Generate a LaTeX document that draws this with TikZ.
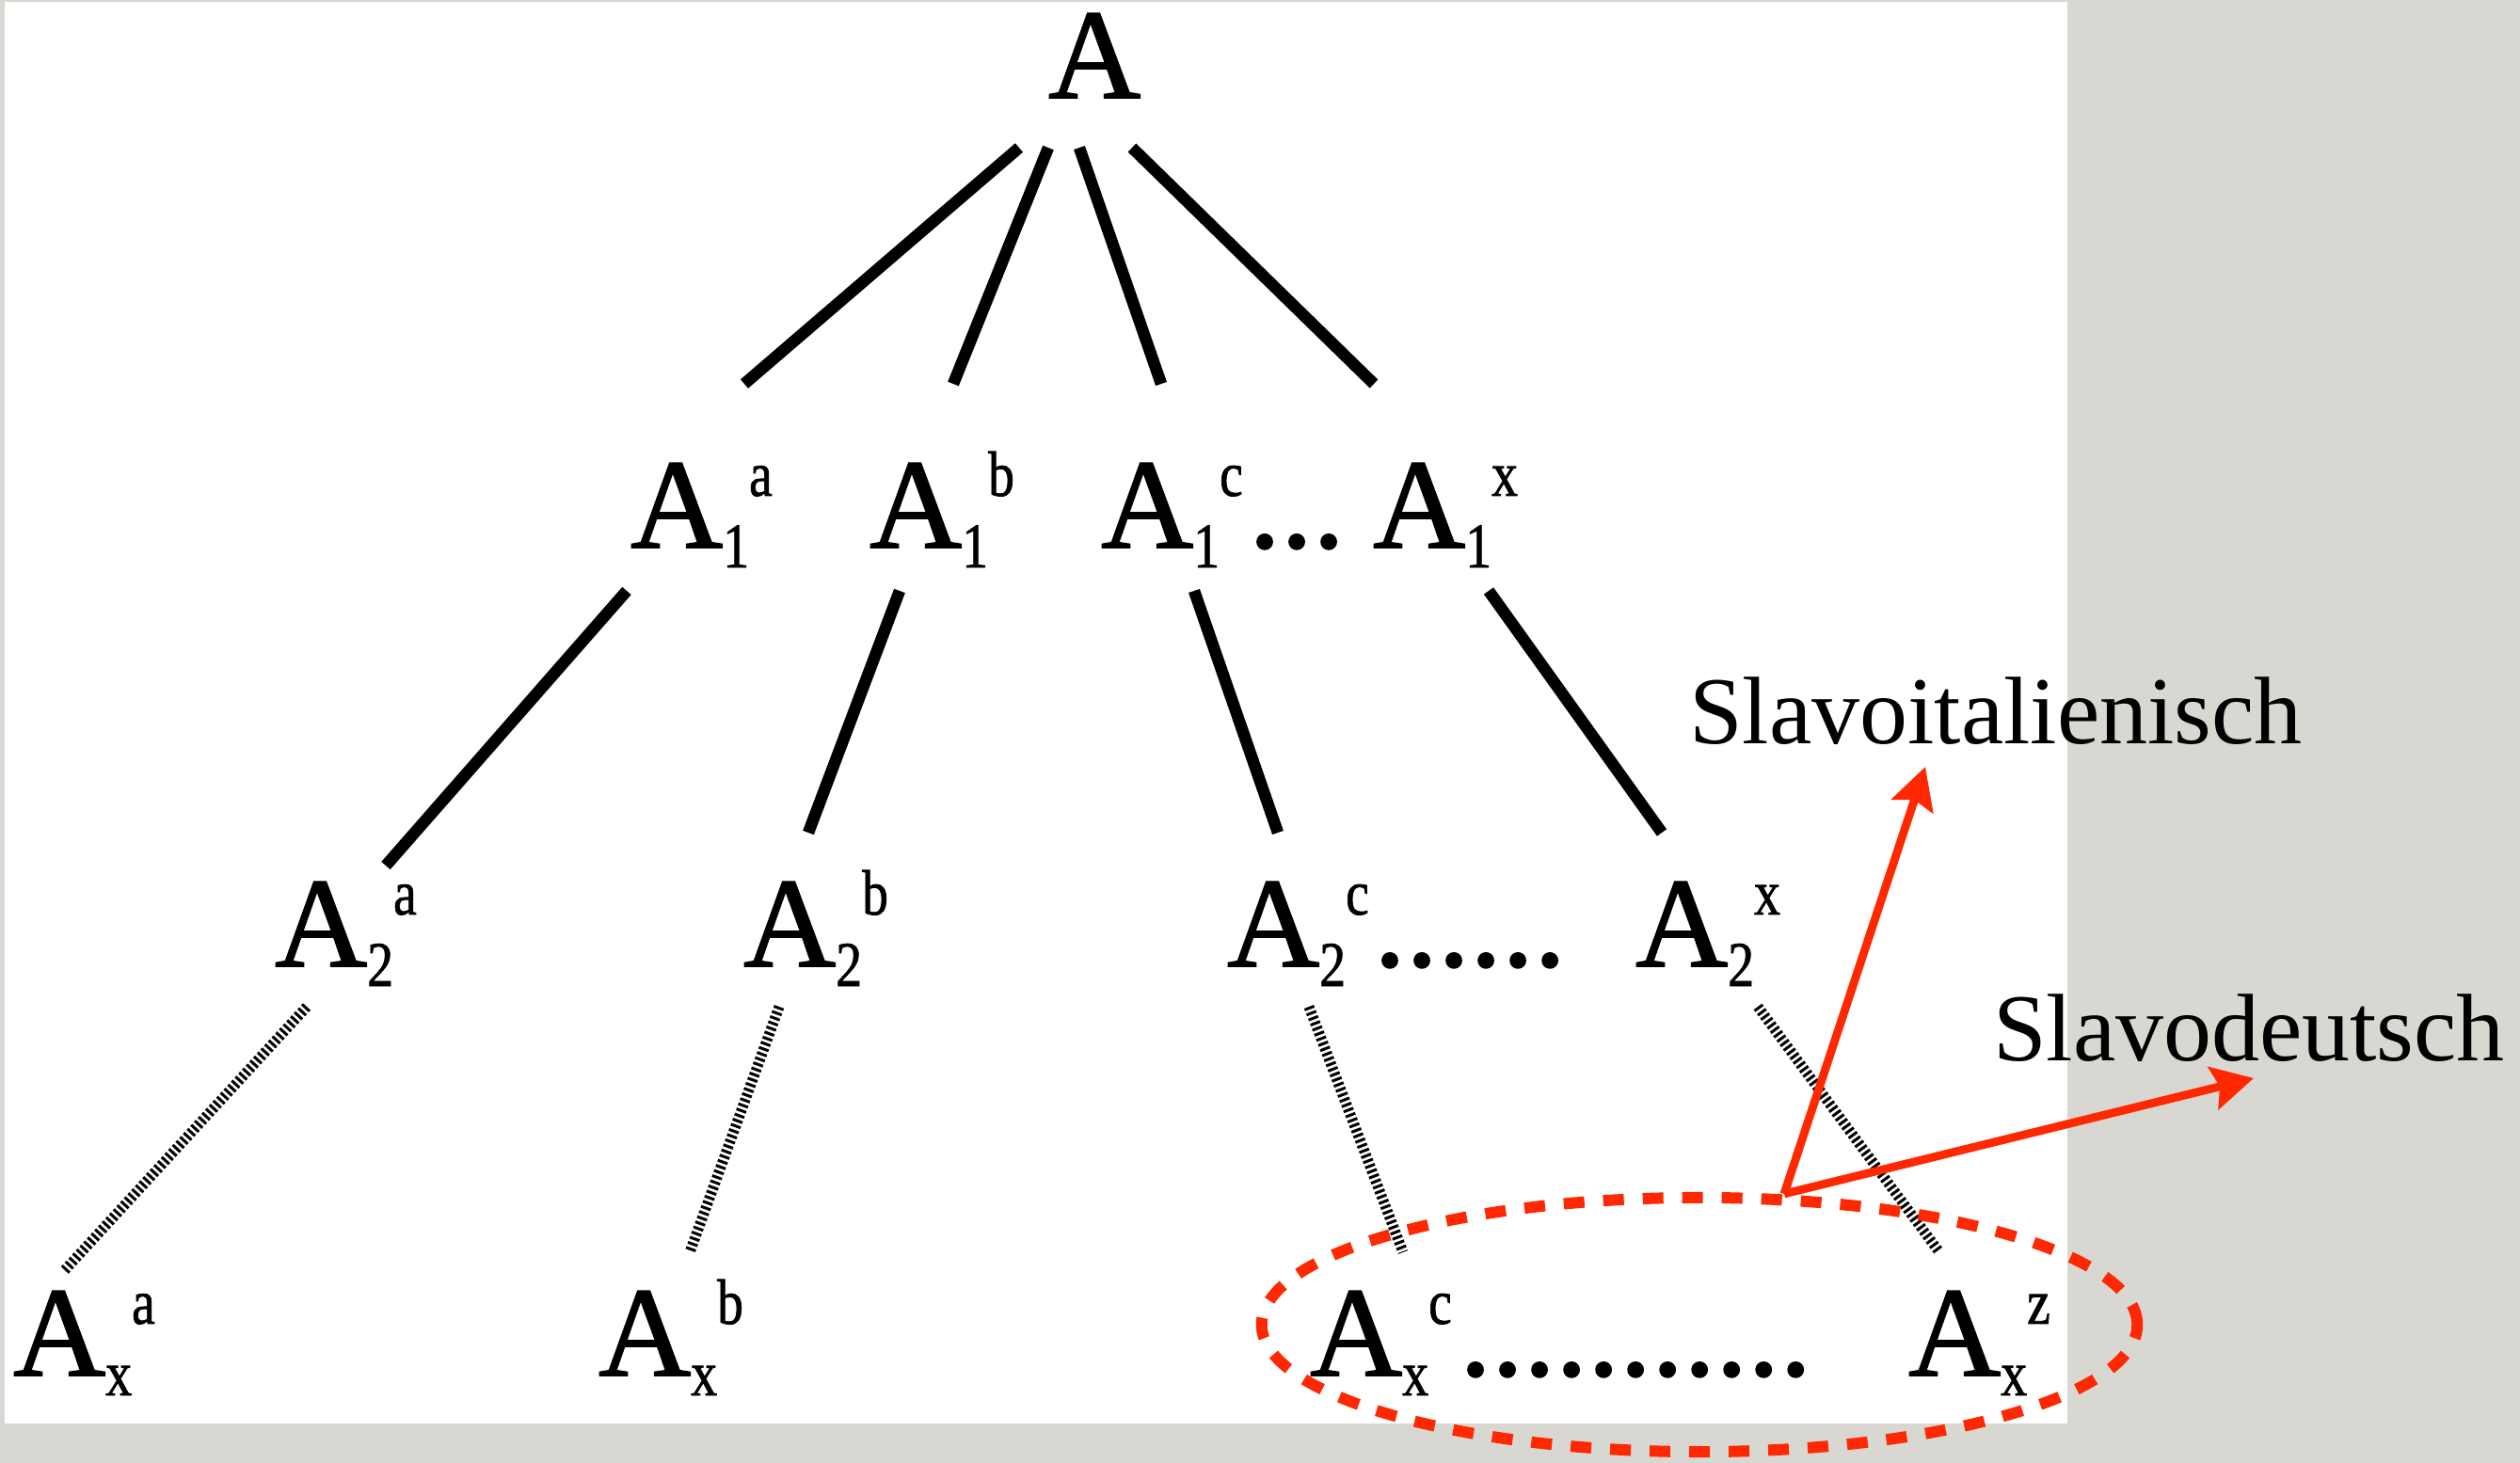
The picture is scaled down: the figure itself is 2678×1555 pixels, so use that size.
\documentclass[tikz,border=0pt]{standalone}
\usepackage{fontspec}
\setmainfont{Liberation Serif}
\newfontfamily\Afont[FakeBold=1.2]{Liberation Serif}
\usetikzlibrary{calc,shapes.geometric,arrows.meta}
\definecolor{paper}{RGB}{217,215,209}
\definecolor{hl}{RGB}{255,40,0}
\newcommand\bigf{\Afont\fontsize{38.7pt}{40pt}\selectfont}
\newcommand\smf{\Afont\fontsize{19.3pt}{20pt}\selectfont}
\newcommand\labf{\fontsize{29pt}{30pt}\selectfont}
\newcommand\sml[1]{\scalebox{0.82}[1]{\smf #1}}
\newcommand\AL[2]{A\raisebox{-0.21cm}{\sml{#1}}\raisebox{0.55cm}{\sml{#2}}}
\begin{document}
\begin{tikzpicture}[x=0.01cm,y=-0.01cm,
  lab/.style={anchor=base west,inner sep=0pt,outer sep=0pt,font=\bigf},
  tlab/.style={anchor=base west,inner sep=0pt,outer sep=0pt,font=\labf},
  branch/.style={line width=0.125cm},
  hatch/.style={line width=0.11cm,dash pattern=on 0.03cm off 0.028cm},
  redarrow/.style={draw=hl,line width=0.088cm,-{Stealth[length=0.44cm,width=0.46cm,inset=0.07cm]}},
  group/.style={draw=hl,ellipse,line width=0.12cm,dash pattern=on 0.22cm off 0.2cm,
    minimum width=9.3cm,minimum height=2.7cm,inner sep=0pt}]
\useasboundingbox (0,0) rectangle (2678,1555);
\fill[paper] (0,0) rectangle (2678,1555);
\fill[white] (5,2) rectangle (2197,1513);
% nodes
\node[lab] (A0) at (1114,104) {A};
\node[lab] (A1a) at (670,582) {\AL{1}{a}};
\node[lab] (A1b) at (924,582) {\AL{1}{b}};
\node[lab] (A1c) at (1170,582) {\AL{1}{c}};
\node[lab] (D1) at (1327,582) {...};
\node[lab] (A1x) at (1459,582) {\AL{1}{x}};
\node[lab] (A2a) at (292,1027) {\AL{2}{a}};
\node[lab] (A2b) at (790,1027) {\AL{2}{b}};
\node[lab] (A2c) at (1304,1027) {\AL{2}{c}};
\node[lab] (D2) at (1460,1027) {......};
\node[lab] (A2x) at (1738,1027) {\AL{2}{x}};
\node[lab] (Axa) at (14,1462) {\AL{x}{a}};
\node[lab] (Axb) at (636,1462) {\AL{x}{b}};
\node[lab] (Axc) at (1392,1462) {\AL{x}{c}};
\node[lab] (D3) at (1551,1462) {...........};
\node[lab] (Axz) at (2028,1462) {\AL{x}{z}};
\node[tlab] (L1) at (1795,790) {Slavoitalienisch};
\node[tlab] (L2) at (2118,1127) {Slavodeutsch};
% branches level 0 -> 1
\draw[branch] ($(A0.base west)+(-31,53)$) -- ($(A1a.base west)+(121,-174)$);
\draw[branch] ($(A0.base west)+(0,53)$) -- ($(A1b.base west)+(89,-174)$);
\draw[branch] ($(A0.base west)+(33,53)$) -- ($(A1c.base west)+(64,-174)$);
\draw[branch] ($(A0.base west)+(89,53)$) -- ($(A1x.base west)+(1,-174)$);
% branches level 1 -> 2
\draw[branch] ($(A1a.base west)+(-4,46)$) -- ($(A2a.base west)+(118,-107)$);
\draw[branch] ($(A1b.base west)+(32,46)$) -- ($(A2b.base west)+(69,-142)$);
\draw[branch] ($(A1c.base west)+(99,46)$) -- ($(A2c.base west)+(54,-142)$);
\draw[branch] ($(A1x.base west)+(123,46)$) -- ($(A2x.base west)+(28,-142)$);
% hatched level 2 -> x
\draw[hatch] ($(A2a.base west)+(34,43)$) -- ($(Axa.base west)+(53,-110)$);
\draw[hatch] ($(A2b.base west)+(38,43)$) -- ($(Axb.base west)+(97,-131)$);
\draw[hatch] ($(A2c.base west)+(87,43)$) -- ($(Axc.base west)+(99,-131)$);
\draw[hatch] ($(A2x.base west)+(130,43)$) -- ($(Axz.base west)+(33,-131)$);
% highlight
\node[group] (grp) at (1806,1408) {};
\coordinate (src) at ($(grp.north)+(90,2)$);
\draw[redarrow] (src) -- ($(L1.base west)+(251,25)$);
\draw[redarrow] (src) -- ($(L2.base west)+(277,19)$);
\end{tikzpicture}
\end{document}
